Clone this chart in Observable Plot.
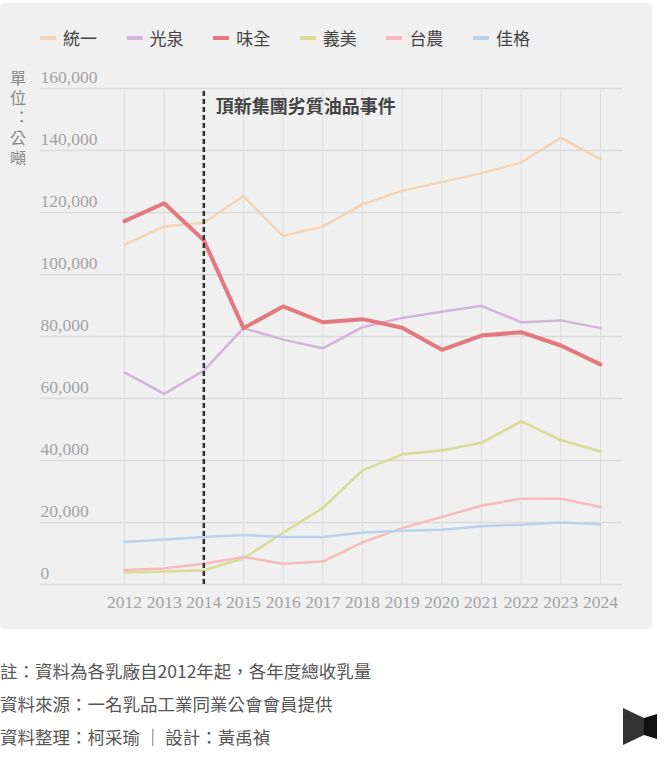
<!DOCTYPE html>
<html lang="zh-TW">
<head>
<meta charset="utf-8">
<script src="https://cdn.jsdelivr.net/npm/d3@7"></script>
<script src="https://cdn.jsdelivr.net/npm/@observablehq/plot@0.6"></script>
<style>
  html, body { margin: 0; padding: 0; background: #fff; width: 665px; height: 758px; overflow: hidden; }
  body { font-family: "Noto Sans CJK TC", "Noto Sans", sans-serif; position: relative; }
  #panel { position: absolute; left: 0; top: 3px; width: 652px; height: 626px; background: #f0f0f0; border-radius: 4px; }
  #legend { position: absolute; left: 40px; top: 25px; display: flex; font-size: 17px; color: #444; line-height: 26px; }
  .item { display: flex; align-items: center; width: 86.6px; }
  .sw { width: 16px; height: 4px; margin-right: 7px; }
  #ytitle { position: absolute; left: 8px; top: 70px; font-size: 16px; line-height: 20px; color: #888;
            writing-mode: vertical-rl; text-orientation: upright; letter-spacing: 4px;
            font-feature-settings: "vert" 0, "vrt2" 0; }
  #chart { position: absolute; left: 0; top: 60px; }
  #foot { position: absolute; left: 0; top: 654px; font-size: 17.5px; line-height: 33px; color: #555; }
  #logo { position: absolute; left: 623px; top: 708px; }
</style>
</head>
<body>
<div id="panel"></div>
<div id="legend"></div>
<div id="ytitle">單位：公噸</div>
<div id="chart"></div>
<div id="foot">
  <div>註：資料為各乳廠自2012年起，各年度總收乳量</div>
  <div>資料來源：一名乳品工業同業公會會員提供</div>
  <div>資料整理：柯采瑜 ｜ 設計：黃禹禎</div>
</div>
<svg id="logo" width="36" height="38" viewBox="0 0 36 38">
  <polygon points="0,0 21,10 21,27 0,37" fill="#333"/>
  <polygon points="21,10 34,6 34,31 21,27" fill="#111"/>
</svg>
<script>
const years = [2012, 2013, 2014, 2015, 2016, 2017, 2018, 2019, 2020, 2021, 2022, 2023, 2024];
const seriesNames = ["統一", "光泉", "味全", "義美", "台農", "佳格"];
const seriesColors = ["#f5d3b5", "#d5b4db", "#e3787e", "#d8dc94", "#f7babf", "#b8d3ee"];

const tongyi     = [109600, 115500, 116700, 125300, 112400, 115500, 122600, 127000, 129800, 132700, 136100, 144100, 137200];
const kuangchuan = [68400, 61500, 69000, 82700, 79000, 76200, 83000, 86000, 88000, 89900, 84600, 85200, 82700];
const weichuan   = [117200, 123000, 111000, 82700, 89700, 84600, 85600, 82800, 75700, 80300, 81400, 77100, 71000];
const imei       = [3900, 4200, 4600, 8400, 16700, 24700, 36800, 42000, 43200, 45700, 52600, 46600, 42900];
const taiNung    = [4700, 5200, 6700, 8900, 6700, 7400, 13600, 18200, 21800, 25400, 27700, 27700, 25000];
const jiaGe      = [13700, 14500, 15300, 16000, 15300, 15300, 16800, 17300, 17700, 18800, 19300, 20000, 19400];

const yTicks = [0, 20000, 40000, 60000, 80000, 100000, 120000, 140000, 160000];
const eventYear = 2014;
const eventLabel = "頂新集團劣質油品事件";

const seriesValues = [tongyi, kuangchuan, weichuan, imei, taiNung, jiaGe];

// legend
const legend = document.getElementById("legend");
seriesNames.forEach((name, i) => {
  const item = document.createElement("div");
  item.className = "item";
  item.innerHTML = `<span class="sw" style="background:${seriesColors[i]}"></span><span>${name}</span>`;
  legend.appendChild(item);
});

const data = [];
seriesNames.forEach((name, i) => {
  years.forEach((yr, j) => data.push({series: name, year: yr, value: seriesValues[i][j]}));
});

const drawOrder = ["統一", "光泉", "義美", "台農", "佳格", "味全"];
const fmt = d3.format(",");
const tickFont = "'Liberation Serif', 'DejaVu Serif', serif";

const chart = Plot.plot({
  width: 652,
  height: 560,
  marginLeft: 40,
  marginRight: 30,
  marginTop: 28,
  marginBottom: 36,
  style: {background: "transparent", overflow: "visible"},
  x: {domain: [2012, 2024], insetLeft: 84, insetRight: 22, axis: null},
  y: {domain: [0, 160000], axis: null},
  marks: [
    Plot.ruleY(yTicks, {stroke: "#dadada", strokeWidth: 1.5}),
    Plot.ruleX(years, {y1: 0, y2: 160000, stroke: "#dcdcdc", strokeWidth: 1}),
    Plot.text(yTicks, {y: d => d, frameAnchor: "left", textAnchor: "start", dy: -11, text: d => fmt(d),
      fill: "#a3a3a3", fontSize: 17.5, fontFamily: tickFont}),
    Plot.text(years, {x: d => d, y: 0, dy: 18, text: d => String(d),
      fill: "#a3a3a3", fontSize: 17.5, fontFamily: tickFont}),
    ...drawOrder.map(name => {
      const i = seriesNames.indexOf(name);
      return Plot.line(data.filter(d => d.series === name), {
        x: "year", y: "value", stroke: seriesColors[i],
        strokeWidth: name === "味全" ? 4 : 2.5, curve: "linear"
      });
    }),
    Plot.ruleX([eventYear], {y1: 0, y2: 160000, stroke: "#333", strokeWidth: 2.5, strokeDasharray: "5,3"}),
    Plot.text([eventLabel], {x: eventYear, y: 160000, dx: 12, dy: 19, text: d => d, textAnchor: "start",
      fontSize: 18, fontWeight: "bold", fill: "#444", fontFamily: "'Noto Sans CJK TC', sans-serif"})
  ]
});
document.getElementById("chart").appendChild(chart);
</script>
</body>
</html>
